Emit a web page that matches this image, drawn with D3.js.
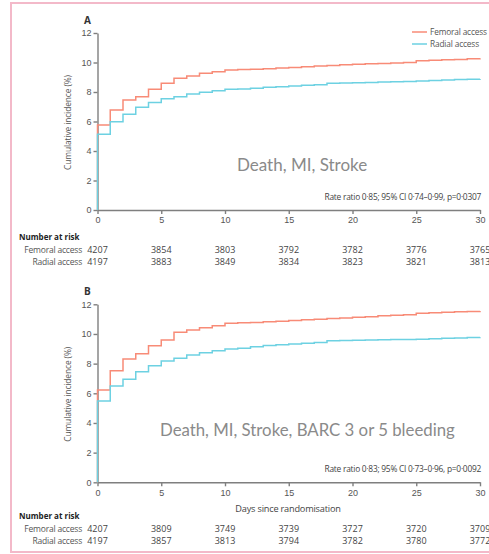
<!DOCTYPE html>
<html>
<head>
<meta charset="utf-8">
<script src="https://cdn.jsdelivr.net/npm/d3@7"></script>
<style>
  body { margin: 0; background: #fff; }
  svg { display: block; font-family: "Open Sans", sans-serif; }
  .axis path, .axis line { stroke: #7f7f7f; stroke-width: 1.4; }
  .axis text { fill: #555; font-size: 9px; }
</style>
</head>
<body>
<svg width="489" height="554"></svg>
<script>
const days = d3.range(0, 31)

// panel A: death, MI, stroke
const femoralA = [5.76, 6.78, 7.46, 7.68, 8.18, 8.59, 8.93, 9.08, 9.27, 9.38, 9.49,
  9.52, 9.55, 9.58, 9.62, 9.66, 9.72, 9.76, 9.80, 9.84, 9.88,
  9.91, 9.94, 9.97, 10.00, 10.12, 10.15, 10.18, 10.21, 10.25, 10.28]
const radialA = [5.13, 5.99, 6.49, 6.96, 7.28, 7.55, 7.68, 7.86, 7.98, 8.09, 8.18,
  8.20, 8.25, 8.32, 8.36, 8.41, 8.45, 8.50, 8.59, 8.61, 8.63,
  8.65, 8.67, 8.69, 8.71, 8.75, 8.78, 8.81, 8.84, 8.86, 8.88]

// panel B: death, MI, stroke, BARC 3 or 5 bleeding
const femoralB = [6.22, 7.52, 8.31, 8.66, 9.20, 9.60, 10.11, 10.27, 10.42, 10.56, 10.72,
  10.75, 10.78, 10.82, 10.86, 10.90, 10.96, 11.00, 11.04, 11.08, 11.12,
  11.16, 11.22, 11.26, 11.30, 11.40, 11.43, 11.46, 11.49, 11.52, 11.55]
const radialB = [5.48, 6.49, 6.94, 7.46, 7.86, 8.18, 8.36, 8.58, 8.74, 8.87, 8.99,
  9.03, 9.14, 9.22, 9.28, 9.33, 9.38, 9.43, 9.54, 9.56, 9.58,
  9.60, 9.61, 9.62, 9.63, 9.65, 9.68, 9.71, 9.73, 9.76, 9.78]

const xTicks = [0, 5, 10, 15, 20, 25, 30]
const yTicks = [0, 2, 4, 6, 8, 10, 12]
const riskFemoralA = [4207, 3854, 3803, 3792, 3782, 3776, 3765]
const riskRadialA = [4197, 3883, 3849, 3834, 3823, 3821, 3813]
const riskFemoralB = [4207, 3809, 3749, 3739, 3727, 3720, 3709]
const riskRadialB = [4197, 3857, 3813, 3794, 3782, 3780, 3772]

const seriesNames = ["Femoral access", "Radial access"]
const colors = ["#f88b77", "#6dd1e2"]

const svg = d3.select("svg")

// pink frame
svg.append("rect")
  .attr("x", 11).attr("y", 3)
  .attr("width", 490).attr("height", 549)
  .attr("fill", "none")
  .attr("stroke", "#f3b9c9")
  .attr("stroke-width", 2)

const x = d3.scaleLinear().domain([0, 30]).range([97.5, 480])

function drawPanel(p) {
  const y = d3.scaleLinear().domain([0, 12]).range([p.bottom, p.top])
  const g = svg.append("g")

  g.append("text")
    .attr("x", 84).attr("y", p.top - 9)
    .attr("font-weight", "bold").attr("font-size", 10).attr("fill", "#333")
    .text(p.letter)

  g.append("text")
    .attr("transform", `translate(71,${(p.top + p.bottom) / 2 + 1}) rotate(-90)`)
    .attr("text-anchor", "middle")
    .attr("font-size", 8.4).attr("letter-spacing", -0.1).attr("fill", "#555")
    .text("Cumulative incidence (%)")

  g.append("g").attr("class", "axis")
    .attr("transform", "translate(97.5,0)")
    .call(d3.axisLeft(y).tickValues(yTicks).tickSize(4).tickSizeOuter(0).tickPadding(2))

  g.append("g").attr("class", "axis")
    .attr("transform", `translate(0,${p.bottom})`)
    .call(d3.axisBottom(x).tickValues(xTicks).tickSize(4).tickSizeOuter(0).tickPadding(3))

  const line = d3.line()
    .x(d => x(d[0]))
    .y(d => y(d[1]))
    .curve(d3.curveStepAfter)

  p.series.forEach((vals, i) => {
    const pts = [[0, 0]].concat(days.map((d, j) => [d, vals[j]]))
    g.append("path")
      .datum(pts)
      .attr("fill", "none")
      .attr("stroke", colors[i])
      .attr("stroke-width", 1.5)
      .attr("d", line)
  })

  g.append("text")
    .attr("x", p.labelX).attr("y", p.labelY)
    .attr("font-family", "Lato, sans-serif")
    .attr("font-size", p.labelSize).attr("fill", "#8a8a8a")
    .text(p.label)

  g.append("text")
    .attr("x", 481).attr("y", p.bottom - 10)
    .attr("text-anchor", "end")
    .attr("font-size", 8.4).attr("letter-spacing", -0.25).attr("fill", "#444")
    .text(p.stat)

  if (p.xTitle) {
    g.append("text")
      .attr("x", 288).attr("y", p.bottom + 30)
      .attr("text-anchor", "middle")
      .attr("font-size", 9.2).attr("letter-spacing", -0.2).attr("fill", "#444")
      .text(p.xTitle)
  }

  // number at risk table
  const ty = p.riskY
  g.append("text")
    .attr("x", 19).attr("y", ty)
    .attr("font-weight", "bold").attr("font-size", 8).attr("fill", "#222")
    .text("Number at risk")

  p.risk.forEach((row, i) => {
    const ry = ty + 12.5 + i * 12
    g.append("text")
      .attr("x", 82).attr("y", ry)
      .attr("text-anchor", "end")
      .attr("font-size", 8.5).attr("letter-spacing", -0.2).attr("fill", "#555")
      .text(seriesNames[i])
    g.selectAll(null)
      .data(row)
      .enter().append("text")
      .attr("x", (d, j) => x(xTicks[j]))
      .attr("y", ry)
      .attr("text-anchor", "middle")
      .attr("font-size", 9).attr("fill", "#444")
      .text(d => d)
  })
}

drawPanel({
  letter: "A", top: 33, bottom: 210,
  series: [femoralA, radialA],
  label: "Death, MI, Stroke", labelX: 237, labelY: 171, labelSize: 17,
  stat: "Rate ratio 0·85; 95% CI 0·74–0·99, p=0·0307",
  riskY: 240, risk: [riskFemoralA, riskRadialA]
})

drawPanel({
  letter: "B", top: 304.3, bottom: 482.3,
  series: [femoralB, radialB],
  label: "Death, MI, Stroke, BARC 3 or 5 bleeding", labelX: 160, labelY: 436, labelSize: 16.8,
  stat: "Rate ratio 0·83; 95% CI 0·73–0·96, p=0·0092",
  xTitle: "Days since randomisation",
  riskY: 519, risk: [riskFemoralB, riskRadialB]
})

// legend
const legend = svg.append("g")
seriesNames.forEach((name, i) => {
  const ly = 32 + i * 12
  legend.append("line")
    .attr("x1", 412).attr("x2", 427)
    .attr("y1", ly).attr("y2", ly)
    .attr("stroke", colors[i]).attr("stroke-width", 1.5)
  legend.append("text")
    .attr("x", 430).attr("y", ly + 3)
    .attr("font-size", 8.3).attr("letter-spacing", -0.15).attr("fill", "#555")
    .text(name)
})
</script>
</body>
</html>
